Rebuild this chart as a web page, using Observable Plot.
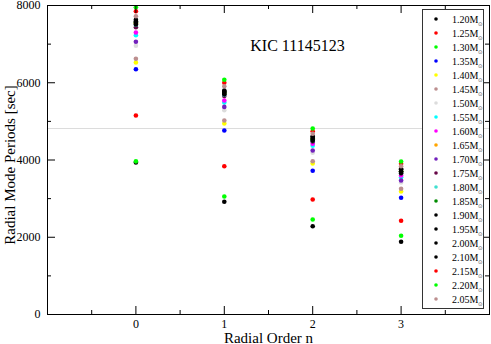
<!DOCTYPE html>
<html><head><meta charset="utf-8">
<script src="https://cdn.jsdelivr.net/npm/d3@7"></script>
<script src="https://cdn.jsdelivr.net/npm/@observablehq/plot@0.6"></script>
<style>body{margin:0;background:#fff}#chart{width:491px;height:344px}</style>
</head><body><div id="chart"></div>
<script>
// ---- data ----
const masses = ["1.20","1.25","1.30","1.35","1.40","1.45","1.50","1.55","1.60","1.65","1.70","1.75","1.80","1.85","1.90","1.95","2.00","2.10","2.15","2.20","2.05"];
const colors = ["#000000","#ff0000","#00ff00","#0000ff","#ffff00","#bc8f8f","#dcdcdc","#00ffff","#ff00ff","#ffa500","#7220bc","#670748","#40e0d0","#008b00","#000000","#000000","#000000","#000000","#ff0000","#00ff00","#bc8f8f"];
const orders = [0, 1, 2, 3];
const n0 = [3935,5152,3965,6351,6524,6620,6957,7231,7301,7540,7060,7438,7500,7560,7510,7550,7594,7630,7852,7956,7723];
const n1 = [2920,3838,3055,4764,4945,5023,5288,5489,5541,5720,5375,5660,5690,5740,5700,5740,5780,5800,5999,6076,5910];
const n2 = [2286,2977,2460,3720,3909,3969,4186,4368,4419,4560,4246,4480,4500,4540,4500,4550,4600,4610,4746,4816,4678];
const n3 = [1885,2426,2040,3021,3184,3254,3417,3555,3599,3700,3469,3650,3670,3700,3665,3710,3760,3775,3902,3961,3840];
const xTicks = [0, 1, 2, 3];
const xMinor = [-0.5, 0.5, 1.5, 2.5, 3.5];
const yTicks = [0, 2000, 4000, 6000, 8000];
const yMinor = [1000, 3000, 5000, 7000];
const refLine = [4815];
const title = "KIC 11145123";
const xLabel = "Radial Order n";
const yLabel = "Radial Mode Periods [sec]";

// ---- layout ----
const W = 491, H = 344, ml = 47, mr = 2, mt = 5, mb = 30;
const fw = W - ml - mr, fh = H - mt - mb;
const serif = "Liberation Serif, Times New Roman, serif";

const series = [n0, n1, n2, n3];
const data = [];
masses.forEach((m, i) => series.forEach((arr, k) => data.push({mass: m, n: orders[k], p: arr[i]})));

const plot = Plot.plot({
  width: W, height: H,
  marginLeft: ml, marginRight: mr, marginTop: mt, marginBottom: mb,
  style: {fontFamily: serif, fontSize: "12px", background: "white", color: "black"},
  x: {domain: [-1, 4]},
  y: {domain: [0, 8000]},
  color: {type: "ordinal", domain: masses, range: colors},
  marks: [
    Plot.ruleY(refLine, {stroke: "#dcdcdc", strokeWidth: 1}),
    Plot.dot(data, {x: "n", y: "p", fill: "mass", r: 2.3}),
    // inward ticks: bottom & top
    Plot.tickX(xTicks, {x: d => d, insetTop: fh - 8, stroke: "black"}),
    Plot.tickX(xTicks, {x: d => d, insetBottom: fh - 8, stroke: "black"}),
    Plot.tickX(xMinor, {x: d => d, insetTop: fh - 4, stroke: "black"}),
    Plot.tickX(xMinor, {x: d => d, insetBottom: fh - 4, stroke: "black"}),
    // inward ticks: left & right
    Plot.tickY(yTicks, {y: d => d, insetRight: fw - 8, stroke: "black"}),
    Plot.tickY(yTicks, {y: d => d, insetLeft: fw - 8, stroke: "black"}),
    Plot.tickY(yMinor, {y: d => d, insetRight: fw - 4, stroke: "black"}),
    Plot.tickY(yMinor, {y: d => d, insetLeft: fw - 4, stroke: "black"}),
    Plot.frame({stroke: "black"}),
    Plot.axisX(xTicks, {tickSize: 0, tickPadding: 5, fontSize: 12, label: null, tickFormat: d => String(d)}),
    Plot.axisY(yTicks, {tickSize: 0, tickPadding: 7, fontSize: 12, label: null, tickFormat: d => String(d)}),
    Plot.text([xLabel], {frameAnchor: "bottom", dy: 28, fontSize: 15, textAnchor: "middle", lineAnchor: "bottom"}),
    Plot.text([yLabel], {frameAnchor: "left", rotate: -90, dx: -37, dy: 5, fontSize: 15, textAnchor: "middle", lineAnchor: "middle"}),
    Plot.text([title], {frameAnchor: "top-left", dx: 297 - ml, dy: 45 - mt, fontSize: 16, textAnchor: "middle", lineAnchor: "middle"})
  ]
});

// ---- legend (inside plot area, top-right) ----
const svg = d3.select(plot);
const g = svg.append("g").attr("font-family", serif).attr("font-size", 10).attr("text-anchor", "start");
g.append("rect").attr("x", 422.5).attr("y", 9.5).attr("width", 61).attr("height", 299)
  .attr("fill", "white").attr("stroke", "#333").attr("stroke-width", 1);
masses.forEach((m, i) => {
  const y = 19 + i * 14;
  g.append("circle").attr("cx", 436).attr("cy", y).attr("r", 1.8).attr("fill", colors[i]);
  const t = g.append("text").attr("x", 452).attr("y", y + 3.5).attr("fill", "black").attr("text-anchor", "start");
  t.append("tspan").text(m + "M");
  t.append("tspan").attr("font-size", 5.5).attr("dy", 3).attr("dx", -0.5).attr("font-family", "DejaVu Sans").attr("fill", "#555").text("⊙");
});

document.getElementById("chart").appendChild(plot);
</script>
</body></html>
